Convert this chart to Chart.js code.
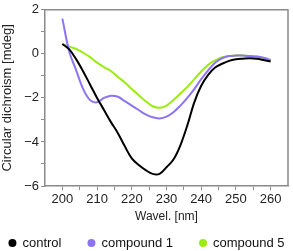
<!DOCTYPE html>
<html lang="en">

<head>
    <meta charset="UTF-8">
    <title>CD spectra</title>
    <style>
        body { margin: 0; background: #fff; }
    </style>
</head>

<body>
    <div style="width: 293px; height: 251px;">
        <canvas id="myChart" width="293" height="251"></canvas>
    </div>

    <script src="https://cdn.jsdelivr.net/npm/chart.js@4/dist/chart.umd.min.js"></script>
    <script>
        // wavelengths (nm) and CD signal (mdeg)
        var wavelengths = [200, 202, 204, 206, 208, 210, 212, 214, 216, 218, 220, 222, 224, 226, 228, 230,
            232, 234, 236, 238, 240, 242, 244, 246, 248, 250, 252, 254, 256, 258, 260];
        var control = [0.45, 0.2, -0.25, -0.8, -1.4, -2.0, -2.55, -3.1, -3.6, -4.2, -4.75, -5.05, -5.28, -5.45, -5.45, -5.15,
            -4.8, -4.15, -3.25, -2.2, -1.45, -0.95, -0.62, -0.45, -0.32, -0.25, -0.22, -0.2, -0.22, -0.28, -0.35];
        var compound1 = [1.6, 0.1, -0.75, -1.6, -2.1, -2.2, -2.0, -1.9, -1.95, -2.15, -2.35, -2.55, -2.75, -2.88, -2.93, -2.85,
            -2.65, -2.35, -2.0, -1.6, -1.15, -0.75, -0.4, -0.2, -0.1, -0.08, -0.08, -0.1, -0.12, -0.18, -0.28];
        var compound5 = [0.45, 0.33, 0.22, 0.05, -0.15, -0.4, -0.6, -0.78, -1.05, -1.3, -1.6, -1.88, -2.15, -2.38, -2.45, -2.35,
            -2.1, -1.8, -1.5, -1.15, -0.8, -0.5, -0.3, -0.15, -0.1, -0.07, -0.07, -0.1, -0.12, -0.2, -0.3];
        var seriesNames = ['control', 'compound 1', 'compound 5'];
        var seriesColors = ['#000000', '#8c74f2', '#9cec12'];

        function toPoints(values) {
            return values.map(function (v, i) { return { x: wavelengths[i], y: v }; });
        }

        var fam = 'Liberation Sans, Arial, sans-serif';

        // grey frame on top and right of the plot
        var framePlugin = {
            id: 'frame',
            afterDraw: function (chart) {
                var a = chart.chartArea;
                var c = chart.ctx;
                c.save();
                c.strokeStyle = '#8a8a8a';
                c.lineWidth = 1.5;
                c.beginPath();
                c.moveTo(a.left, a.top);
                c.lineTo(a.right, a.top);
                c.lineTo(a.right, a.bottom);
                c.stroke();
                c.restore();
            }
        };

        // one-row legend with dots, spaced like the figure
        var dotLegend = {
            id: 'dotLegend',
            afterDraw: function (chart) {
                var c = chart.ctx;
                var y = 243;
                var gap = 30, textOff = 10, r = 4;
                c.save();
                c.font = '13px ' + fam;
                c.textBaseline = 'middle';
                var items = chart.data.datasets.map(function (ds) {
                    return { text: ds.label, color: ds.borderColor, w: c.measureText(ds.label).width };
                });
                var total = 0;
                items.forEach(function (it, i) {
                    total += textOff + it.w + (i < items.length - 1 ? gap : 0);
                });
                total += r;
                var x = (chart.width - total) / 2 + r;
                items.forEach(function (it) {
                    c.fillStyle = it.color;
                    c.beginPath();
                    c.arc(x, y, r, 0, Math.PI * 2);
                    c.fill();
                    c.fillStyle = '#111';
                    c.fillText(it.text, x + textOff, y);
                    x += textOff + it.w + gap;
                });
                c.restore();
            }
        };

        var axisFont = { family: fam, size: 13 };
        var ctx = document.getElementById('myChart');
        var config = {
            type: 'line',
            data: {
                datasets: [control, compound1, compound5].map(function (vals, i) {
                    return {
                        label: seriesNames[i],
                        data: toPoints(vals),
                        borderColor: seriesColors[i],
                        backgroundColor: seriesColors[i],
                        borderWidth: 2,
                        pointRadius: 0,
                        tension: 0.35,
                        fill: false
                    };
                })
            },
            options: {
                responsive: false,
                animation: false,
                layout: { padding: { top: 5, right: 5, left: 0, bottom: 27 } },
                plugins: {
                    tooltip: { enabled: false },
                    legend: { display: false }
                },
                scales: {
                    x: {
                        type: 'linear',
                        min: 195,
                        max: 265,
                        afterFit: function (s) { s.height = 38; },
                        border: { display: true, color: '#8a8a8a', width: 1.5 },
                        grid: { display: true, drawOnChartArea: false, drawTicks: true, tickLength: 4, color: '#8a8a8a' },
                        ticks: {
                            stepSize: 5,
                            autoSkip: false,
                            maxRotation: 0,
                            padding: 2,
                            color: '#222',
                            font: axisFont,
                            callback: function (v) { return v % 10 === 0 ? v : ''; }
                        },
                        afterBuildTicks: function (s) {
                            s.ticks = s.ticks.filter(function (t) { return t.value >= 200 && t.value <= 260; });
                        },
                        title: { display: true, text: 'Wavel. [nm]', color: '#222', font: { family: fam, size: 12 }, padding: { top: 0, bottom: 0 } }
                    },
                    y: {
                        min: -6,
                        max: 2,
                        afterFit: function (s) { s.width = 45; },
                        border: { display: true, color: '#8a8a8a', width: 1.5 },
                        grid: { display: true, drawOnChartArea: false, drawTicks: true, tickLength: 4, color: '#8a8a8a' },
                        ticks: {
                            stepSize: 1,
                            padding: 2,
                            color: '#222',
                            font: axisFont,
                            callback: function (v) { return v % 2 === 0 ? (v < 0 ? '\u2212' + Math.abs(v) : v) : ''; }
                        },
                        title: { display: true, text: 'Circular dichroism [mdeg]', color: '#222', font: axisFont, padding: 0 }
                    }
                }
            },
            plugins: [framePlugin, dotLegend]
        };
        var chart = new Chart(ctx, config);
    </script>

</body>

</html>
